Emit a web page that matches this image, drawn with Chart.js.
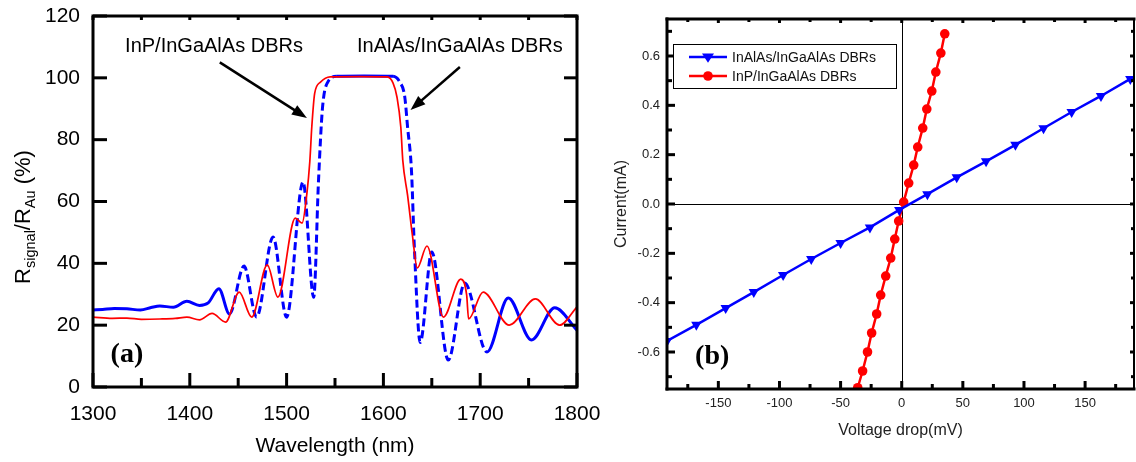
<!DOCTYPE html>
<html>
<head>
<meta charset="utf-8">
<script src="https://cdn.jsdelivr.net/npm/chart.js@4.4.0/dist/chart.umd.min.js"></script>
<style>
	html, body { margin: 0; padding: 0; background: #fff; }
	#wrap { position: relative; width: 1136px; height: 462px; overflow: hidden; }
	#reflectChart { position: absolute; left: 0; top: 0; }
	#ivChart { position: absolute; left: 610px; top: 0; }
</style>
</head>
<body>
<div id="wrap">
	<canvas id="reflectChart" width="610" height="462" style="width:610px;height:462px"></canvas>
	<canvas id="ivChart" width="526" height="462" style="width:526px;height:462px"></canvas>
</div>
<script>
// (a) reflectance spectra
const blueWavelength = [1300, 1310, 1322, 1335, 1349, 1360, 1369, 1383, 1397, 1410, 1419, 1430, 1441, 1456, 1469, 1486, 1500, 1517, 1528, 1533, 1537, 1542, 1552, 1580, 1610, 1617, 1622, 1625, 1629, 1632, 1638, 1650, 1667, 1684, 1707, 1729, 1753, 1777, 1800];
const blueReflect = [24.9, 25.1, 25.4, 25.3, 24.9, 25.7, 26.2, 25.8, 27.7, 26.4, 27.2, 31.8, 23.6, 39.1, 22.6, 48.5, 22.6, 66.3, 29.0, 67.0, 90.0, 98.3, 100.5, 100.6, 100.5, 98.6, 94.0, 84.0, 70.0, 45.0, 14.4, 43.7, 8.7, 33.6, 11.3, 28.8, 15.2, 25.6, 18.4];
const redWavelength = [1300, 1320, 1335, 1350, 1369, 1385, 1397, 1410, 1423, 1437, 1451, 1464, 1480, 1491, 1509, 1516, 1521, 1524, 1526, 1529, 1535, 1545, 1575, 1604, 1610, 1614, 1618, 1620, 1625, 1630, 1635, 1645, 1662, 1680, 1686, 1688, 1703, 1730, 1757, 1782, 1800];
const redReflect = [22.6, 22.2, 22.3, 21.9, 22.0, 22.2, 22.6, 21.7, 23.8, 21.0, 30.7, 22.6, 39.5, 29.1, 54.6, 53.0, 62.7, 73.0, 84.0, 95.0, 98.6, 100.3, 100.4, 100.3, 98.3, 93.8, 84.0, 73.4, 62.0, 49.0, 38.5, 45.6, 22.6, 34.9, 29.8, 22.0, 30.7, 20.0, 28.5, 20.0, 25.9];
const wavelengthTicks = [1300, 1400, 1500, 1600, 1700, 1800];
const wavelengthMinor = [1350, 1450, 1550, 1650, 1750];
const reflectTicks = [0, 20, 40, 60, 80, 100, 120];

// (b) I-V curves
const inalasVoltage = [-192, -168, -144, -121, -97, -74, -50, -26, -2, 21, 45, 69, 93, 116, 139, 163, 187];
const inalasCurrent = [-0.555, -0.49, -0.422, -0.357, -0.288, -0.223, -0.158, -0.095, -0.024, 0.04, 0.108, 0.173, 0.24, 0.307, 0.373, 0.438, 0.507];
const inpVoltage = [-36, -32, -28, -24.6, -20.5, -17.2, -13.1, -9, -5.7, -2.5, 1.6, 5.7, 9.8, 13.1, 17.2, 20.5, 24.6, 27.9, 32, 35.2];
const inpCurrent = [-0.745, -0.677, -0.6, -0.523, -0.446, -0.369, -0.292, -0.219, -0.142, -0.069, 0.008, 0.085, 0.158, 0.231, 0.308, 0.385, 0.458, 0.535, 0.612, 0.69];
const voltageTicks = [-150, -100, -50, 0, 50, 100, 150];
const voltageMinor = [-175, -125, -75, -25, 25, 75, 125, 175];
const currentTicks = [-0.6, -0.4, -0.2, 0, 0.2, 0.4, 0.6];
const currentMinor = [-0.7, -0.5, -0.3, -0.1, 0.1, 0.3, 0.5, 0.7];

const blue = "#0000ff";
const red = "#ff0000";
const sans = "Arial, 'Liberation Sans', sans-serif";
const serif = "'Times New Roman', 'Liberation Serif', serif";

function toPoints(xs, ys) {
	return xs.map((v, i) => ({ x: v, y: ys[i] }));
}

// keep the plot box where we put it: no label overflow padding
function noScalePadding(scale) {
	scale.paddingTop = 0;
	scale.paddingBottom = 0;
	scale.paddingLeft = 0;
	scale.paddingRight = 0;
}

function seg(ctx, x1, y1, x2, y2) {
	ctx.beginPath();
	ctx.moveTo(x1, y1);
	ctx.lineTo(x2, y2);
	ctx.stroke();
}

function arrow(ctx, x1, y1, x2, y2) {
	const ang = Math.atan2(y2 - y1, x2 - x1);
	const c = Math.cos(ang);
	const s = Math.sin(ang);
	const head = 15;
	const half = 5.5;
	seg(ctx, x1, y1, x2 - c * head * 0.7, y2 - s * head * 0.7);
	ctx.beginPath();
	ctx.moveTo(x2, y2);
	ctx.lineTo(x2 - c * head + s * half, y2 - s * head - c * half);
	ctx.lineTo(x2 - c * head - s * half, y2 - s * head + c * half);
	ctx.closePath();
	ctx.fill();
}

const reflectDecor = {
	id: "reflectDecor",
	afterDraw(chart) {
		const { ctx, chartArea: a, scales: { x, y } } = chart;
		ctx.save();
		ctx.strokeStyle = "#000";
		ctx.fillStyle = "#000";
		ctx.lineWidth = 3;

		wavelengthTicks.forEach((v) => {
			const px = x.getPixelForValue(v);
			seg(ctx, px, a.bottom, px, a.bottom - 14);
			seg(ctx, px, a.top, px, a.top + 4);
		});
		wavelengthMinor.forEach((v) => {
			const px = x.getPixelForValue(v);
			seg(ctx, px, a.bottom, px, a.bottom - 9);
			seg(ctx, px, a.top, px, a.top + 4);
		});
		reflectTicks.forEach((v) => {
			const py = y.getPixelForValue(v);
			seg(ctx, a.left, py, a.left + 14, py);
			seg(ctx, a.right, py, a.right - 13, py);
		});
		ctx.lineJoin = "miter";
		ctx.strokeRect(a.left, a.top, a.right - a.left, a.bottom - a.top);

		// annotations
		ctx.lineWidth = 2.5;
		arrow(ctx, x.getPixelForValue(1431), y.getPixelForValue(105), x.getPixelForValue(1521), y.getPixelForValue(87));
		arrow(ctx, x.getPixelForValue(1679), y.getPixelForValue(103.5), x.getPixelForValue(1628), y.getPixelForValue(89.6));

		ctx.font = `20px ${sans}`;
		ctx.textAlign = "center";
		ctx.textBaseline = "middle";
		ctx.fillText("InP/InGaAlAs DBRs", x.getPixelForValue(1425), y.getPixelForValue(110));
		ctx.fillText("InAlAs/InGaAlAs DBRs", x.getPixelForValue(1679), y.getPixelForValue(110));

		ctx.font = `bold 28px ${serif}`;
		ctx.fillText("(a)", x.getPixelForValue(1335), y.getPixelForValue(10.3));

		// axis titles
		ctx.font = `21px ${sans}`;
		ctx.fillText("Wavelength (nm)", (a.left + a.right) / 2, 446);

		const parts = [
			["R", 22, 0],
			["signal", 14.5, 5],
			["/R", 22, 0],
			["Au", 14.5, 5],
			[" (%)", 22, 0],
		];
		let total = 0;
		parts.forEach((p) => {
			ctx.font = `${p[1]}px ${sans}`;
			total += ctx.measureText(p[0]).width;
		});
		ctx.translate(30, 217 + total / 2);
		ctx.rotate(-Math.PI / 2);
		ctx.textAlign = "left";
		ctx.textBaseline = "alphabetic";
		let cx = 0;
		parts.forEach((p) => {
			ctx.font = `${p[1]}px ${sans}`;
			ctx.fillText(p[0], cx, p[2]);
			cx += ctx.measureText(p[0]).width;
		});
		ctx.restore();
	},
};

function triangleDown(ctx, cx, cy, r) {
	ctx.beginPath();
	ctx.moveTo(cx - r, cy - r * 0.6);
	ctx.lineTo(cx + r, cy - r * 0.6);
	ctx.lineTo(cx, cy + r * 0.95);
	ctx.closePath();
	ctx.fill();
}

const ivDecor = {
	id: "ivDecor",
	beforeDatasetsDraw(chart) {
		const { ctx, chartArea: a, scales: { x, y } } = chart;
		ctx.save();
		ctx.strokeStyle = "#000";
		ctx.lineWidth = 1;
		const x0 = Math.round(x.getPixelForValue(0)) + 0.5;
		const y0 = Math.round(y.getPixelForValue(0)) + 0.5;
		seg(ctx, x0, a.top, x0, a.bottom);
		seg(ctx, a.left, y0, a.right, y0);
		ctx.restore();
	},
	afterDraw(chart) {
		const { ctx, chartArea: a, scales: { x, y } } = chart;
		ctx.save();
		ctx.strokeStyle = "#000";
		ctx.fillStyle = "#000";
		ctx.lineWidth = 3;

		voltageTicks.forEach((v) => {
			const px = x.getPixelForValue(v);
			seg(ctx, px, a.bottom, px, a.bottom - 8);
			seg(ctx, px, a.top, px, a.top + 4);
		});
		voltageMinor.forEach((v) => {
			const px = x.getPixelForValue(v);
			seg(ctx, px, a.bottom, px, a.bottom - 5);
			seg(ctx, px, a.top, px, a.top + 3);
		});
		currentTicks.forEach((v) => {
			const py = y.getPixelForValue(v);
			seg(ctx, a.left, py, a.left + 8, py);
			seg(ctx, a.right, py, a.right - 4, py);
		});
		currentMinor.forEach((v) => {
			const py = y.getPixelForValue(v);
			seg(ctx, a.left, py, a.left + 5, py);
			seg(ctx, a.right, py, a.right - 3, py);
		});

		ctx.lineCap = "square";
		seg(ctx, a.left, a.top, a.left, a.bottom);
		seg(ctx, a.left, a.bottom, a.right, a.bottom);
		seg(ctx, a.left, a.top, a.right, a.top);
		ctx.lineWidth = 2;
		seg(ctx, a.right, a.top, a.right, a.bottom);
		ctx.lineCap = "butt";

		// legend
		const bx = a.left + 6.5;
		const by = 44.5;
		ctx.fillStyle = "#fff";
		ctx.fillRect(bx, by, 223, 44);
		ctx.lineWidth = 1;
		ctx.strokeRect(bx, by, 223, 44);
		const entries = [
			["InAlAs/InGaAlAs DBRs", blue, "tri", 57],
			["InP/InGaAlAs DBRs", red, "dot", 76],
		];
		ctx.font = `14px ${sans}`;
		ctx.textAlign = "left";
		ctx.textBaseline = "middle";
		entries.forEach((e) => {
			ctx.strokeStyle = e[1];
			ctx.fillStyle = e[1];
			ctx.lineWidth = 2.5;
			seg(ctx, a.left + 22, e[3], a.left + 60, e[3]);
			if (e[2] === "tri") {
				triangleDown(ctx, a.left + 41, e[3], 6);
			} else {
				ctx.beginPath();
				ctx.arc(a.left + 41, e[3], 4.8, 0, Math.PI * 2);
				ctx.fill();
			}
			ctx.fillStyle = "#111";
			ctx.fillText(e[0], a.left + 65, e[3] + 1);
		});

		ctx.fillStyle = "#000";
		ctx.font = `bold 28px ${serif}`;
		ctx.textAlign = "center";
		ctx.fillText("(b)", x.getPixelForValue(-155), y.getPixelForValue(-0.62));

		ctx.fillStyle = "#222";
		ctx.font = `16px ${sans}`;
		ctx.fillText("Voltage drop(mV)", (a.left + a.right) / 2, 431);
		ctx.translate(12, (a.top + a.bottom) / 2);
		ctx.rotate(-Math.PI / 2);
		ctx.fillText("Current(mA)", 0, 0);
		ctx.restore();
	},
};

function renderReflectChart() {
	const ctx = document.getElementById("reflectChart");
	return new Chart(ctx, {
		type: "line",
		data: {
			datasets: [
				{
					label: "InP/InGaAlAs DBRs",
					data: toPoints(redWavelength, redReflect),
					borderColor: red,
					borderWidth: 1.7,
					pointRadius: 0,
					cubicInterpolationMode: "monotone",
				},
				{
					label: "InAlAs/InGaAlAs DBRs",
					data: toPoints(blueWavelength, blueReflect),
					borderColor: blue,
					borderWidth: 3,
					pointRadius: 0,
					cubicInterpolationMode: "monotone",
					segment: {
						// dashed through the stop band edges, solid on the flat parts
						borderDash: (s) => {
							const inBand = s.p0.parsed.x >= 1436 && s.p1.parsed.x <= 1707;
							const onTop = s.p0.parsed.y > 99 && s.p1.parsed.y > 99;
							return inBand && !onTop ? [8, 4] : undefined;
						},
					},
				},
			],
		},
		options: {
			responsive: false,
			animation: false,
			devicePixelRatio: 1,
			layout: { autoPadding: false, padding: { top: 16, right: 33, left: 0, bottom: 0 } },
			plugins: { legend: { display: false }, tooltip: { enabled: false } },
			scales: {
				x: {
					type: "linear",
					min: 1300,
					max: 1800,
					grid: { display: false, drawTicks: false },
					border: { display: false },
					afterBuildTicks: (scale) => {
						scale.ticks = wavelengthTicks.map((v) => ({ value: v }));
					},
					afterFit: (scale) => {
						scale.height = 75;
						noScalePadding(scale);
					},
					ticks: {
						autoSkip: false,
						maxRotation: 0,
						padding: 15,
						color: "#000",
						font: { family: sans, size: 21 },
						callback: (v) => String(v),
					},
				},
				y: {
					min: 0,
					max: 120,
					grid: { display: false, drawTicks: false },
					border: { display: false },
					afterBuildTicks: (scale) => {
						scale.ticks = reflectTicks.map((v) => ({ value: v }));
					},
					afterFit: (scale) => {
						scale.width = 93;
						noScalePadding(scale);
					},
					ticks: {
						padding: 13,
						color: "#000",
						font: { family: sans, size: 21 },
					},
				},
			},
		},
		plugins: [reflectDecor],
	});
}

function renderIvChart() {
	const ctx = document.getElementById("ivChart");
	return new Chart(ctx, {
		type: "line",
		data: {
			datasets: [
				{
					label: "InAlAs/InGaAlAs DBRs",
					data: toPoints(inalasVoltage, inalasCurrent),
					borderColor: blue,
					backgroundColor: blue,
					borderWidth: 2.5,
					pointStyle: "triangle",
					rotation: 180,
					pointRadius: 6,
					pointBorderWidth: 0,
				},
				{
					label: "InP/InGaAlAs DBRs",
					data: toPoints(inpVoltage, inpCurrent),
					borderColor: red,
					backgroundColor: red,
					borderWidth: 2.5,
					pointStyle: "circle",
					pointRadius: 4.8,
					pointBorderWidth: 0,
				},
			],
		},
		options: {
			responsive: false,
			animation: false,
			devicePixelRatio: 1,
			layout: { autoPadding: false, padding: { top: 19, right: 2, left: 0, bottom: 0 } },
			plugins: { legend: { display: false }, tooltip: { enabled: false } },
			scales: {
				x: {
					type: "linear",
					min: -192,
					max: 190,
					grid: { display: false, drawTicks: false },
					border: { display: false },
					afterBuildTicks: (scale) => {
						scale.ticks = voltageTicks.map((v) => ({ value: v }));
					},
					afterFit: (scale) => {
						scale.height = 73;
						noScalePadding(scale);
					},
					ticks: {
						autoSkip: false,
						maxRotation: 0,
						padding: 7,
						color: "#222",
						font: { family: sans, size: 13 },
						callback: (v) => String(v),
					},
				},
				y: {
					min: -0.75,
					max: 0.75,
					grid: { display: false, drawTicks: false },
					border: { display: false },
					afterBuildTicks: (scale) => {
						scale.ticks = currentTicks.map((v) => ({ value: v }));
					},
					afterFit: (scale) => {
						scale.width = 57;
						noScalePadding(scale);
					},
					ticks: {
						padding: 7,
						color: "#222",
						font: { family: sans, size: 13 },
						callback: (v) => Number(v).toFixed(1),
					},
				},
			},
		},
		plugins: [ivDecor],
	});
}

try {
	renderReflectChart();
	renderIvChart();
} catch (err) {
	console.error("Chart render failed:", err);
}
</script>
</body>
</html>
